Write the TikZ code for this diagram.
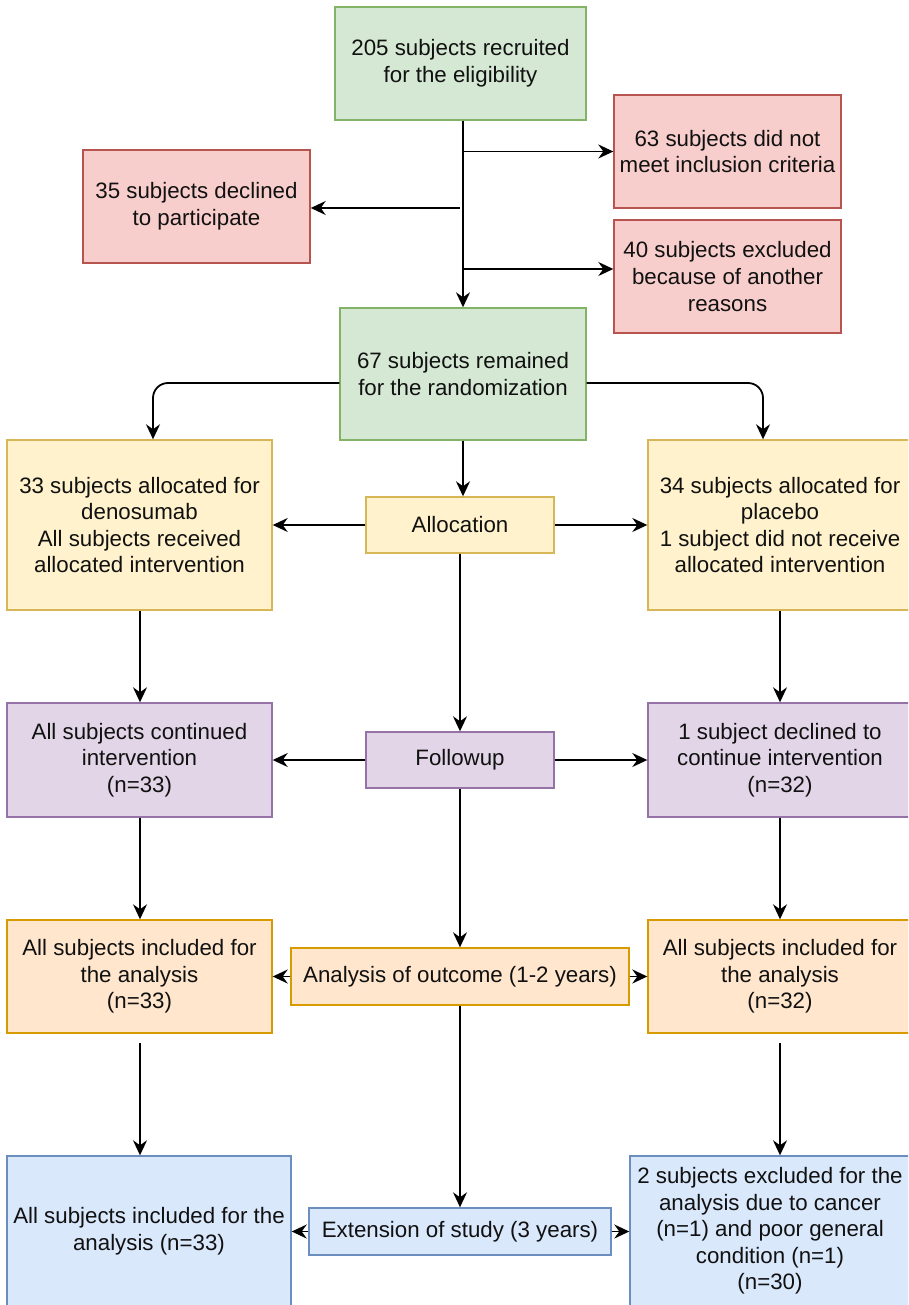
\documentclass[tikz,border=0pt]{standalone}
\usepackage{fontspec}
\setmainfont{Liberation Sans}
\usetikzlibrary{arrows.meta}
\definecolor{gfill}{HTML}{D5E8D4}\definecolor{gdraw}{HTML}{82B366}
\definecolor{rfill}{HTML}{F8CECC}\definecolor{rdraw}{HTML}{B85450}
\definecolor{yfill}{HTML}{FFF2CC}\definecolor{ydraw}{HTML}{D6B656}
\definecolor{pfill}{HTML}{E1D5E7}\definecolor{pdraw}{HTML}{9673A6}
\definecolor{ofill}{HTML}{FFE6CC}\definecolor{odraw}{HTML}{D79B00}
\definecolor{bfill}{HTML}{DAE8FC}\definecolor{bdraw}{HTML}{6C8EBF}
\definecolor{txt}{HTML}{111111}
\begin{document}
\begin{tikzpicture}[x=1pt,y=-1pt,
  box/.style={draw, line width=1.4pt, align=center, inner sep=0pt, text=txt,
    font=\fontsize{22.3}{26.6}\selectfont},
  gbox/.style={box, fill=gfill, draw=gdraw},
  rbox/.style={box, fill=rfill, draw=rdraw},
  ybox/.style={box, fill=yfill, draw=ydraw},
  pbox/.style={box, fill=pfill, draw=pdraw},
  obox/.style={box, fill=ofill, draw=odraw},
  bbox/.style={box, fill=bfill, draw=bdraw},
  arr/.style={line width=1.8pt, draw=black, -{Stealth[length=15pt,width=14pt,inset=5pt]}},
]
\clip (0,0) rectangle (908,1305);
\fill[white] (0,0) rectangle (908,1305);

% top section
\node[gbox, minimum width=251pt, minimum height=113pt] (top) at (460.5,63.5) {205 subjects recruited\\for the eligibility};
\node[rbox, minimum width=227pt, minimum height=113pt] (r63) at (727.5,151.5) {63 subjects did not\\meet inclusion criteria};
\node[rbox, minimum width=227pt, minimum height=113pt] (r40) at (727.5,276.5) {40 subjects excluded\\because of another\\reasons};
\node[rbox, minimum width=227pt, minimum height=113pt] (r35) at (196.5,206.5) {35 subjects declined\\to participate};
\node[gbox, minimum width=246pt, minimum height=132pt] (g67) at (463,374) {67 subjects remained\\for the randomization};

% allocation row
\node[ybox, minimum width=265pt, minimum height=170pt] (yL) at (139.5,525) {33 subjects allocated for\\denosumab\\All subjects received\\allocated intervention};
\node[ybox, minimum width=188pt, minimum height=56pt] (alloc) at (460,525) {Allocation};
\node[ybox, minimum width=264pt, minimum height=170pt] (yR) at (780,525) {34 subjects allocated for\\placebo\\1 subject did not receive\\allocated intervention};

% followup row
\node[pbox, minimum width=265pt, minimum height=114pt] (pL) at (139.5,760) {All subjects continued\\intervention\\(n=33)};
\node[pbox, minimum width=188pt, minimum height=56pt] (follow) at (460,760) {Followup};
\node[pbox, minimum width=264pt, minimum height=114pt] (pR) at (780,760) {1 subject declined to\\continue intervention\\(n=32)};

% analysis row
\node[obox, minimum width=265pt, minimum height=113pt] (oL) at (139.5,976.5) {All subjects included for\\the analysis\\(n=33)};
\node[obox, minimum width=338pt, minimum height=57pt] (oC) at (460,976.5) {Analysis of outcome (1-2 years)};
\node[obox, minimum width=264pt, minimum height=113pt] (oR) at (780,976.5) {All subjects included for\\the analysis\\(n=32)};

% extension row
\node[bbox, minimum width=284pt, minimum height=150pt] (bL) at (149,1231) {All subjects included for the\\analysis (n=33)};
\node[bbox, minimum width=302pt, minimum height=47pt] (ext) at (460,1231.5) {Extension of study (3 years)};
\node[bbox, minimum width=280pt, minimum height=150pt] (bR) at (770,1231) {2 subjects excluded for the\\analysis due to cancer\\(n=1) and poor general\\condition (n=1)\\(n=30)};

% coordinates
\coordinate (trunk) at (463,0);
\coordinate (b40) at (463,269);
\coordinate (b35) at (460,208);
\coordinate (cl) at (153,383);
\coordinate (cr) at (763,383);
\coordinate (lc) at (140,0);
\coordinate (rc) at (780,0);
\coordinate (cc) at (460,0);
\coordinate (lo) at (140,1043);
\coordinate (ro) at (780,1043);

% connectors top
\draw[arr] (top.south -| trunk) -- (g67.north -| trunk);
\draw[arr] (trunk |- r63.west) -- (r63.west);
\draw[arr] (b40) -- (b40 -| r40.west);
\draw[arr] (b35) -- (b35 -| r35.east);

% randomization branches
\draw[arr, rounded corners=15pt] (g67.west |- cl) -- (cl) -- (cl |- yL.north);
\draw[arr, rounded corners=15pt] (g67.east |- cr) -- (cr) -- (cr |- yR.north);
\draw[arr] (g67.south -| trunk) -- (alloc.north -| trunk);

% center column
\draw[arr] (alloc.south -| cc) -- (follow.north -| cc);
\draw[arr] (follow.south -| cc) -- (oC.north -| cc);
\draw[arr] (oC.south -| cc) -- (ext.north -| cc);

% left column
\draw[arr] (yL.south -| lc) -- (pL.north -| lc);
\draw[arr] (pL.south -| lc) -- (oL.north -| lc);
\draw[arr] (lo) -- (lo |- bL.north);

% right column
\draw[arr] (yR.south -| rc) -- (pR.north -| rc);
\draw[arr] (pR.south -| rc) -- (oR.north -| rc);
\draw[arr] (ro) -- (ro |- bR.north);

% horizontal arrows
\draw[arr] (alloc.west) -- (alloc.west -| yL.east);
\draw[arr] (alloc.east) -- (alloc.east -| yR.west);
\draw[arr] (follow.west) -- (follow.west -| pL.east);
\draw[arr] (follow.east) -- (follow.east -| pR.west);
\draw[arr] (oC.west) -- (oC.west -| oL.east);
\draw[arr] (oC.east) -- (oC.east -| oR.west);
\draw[arr] (ext.west) -- (ext.west -| bL.east);
\draw[arr] (ext.east) -- (ext.east -| bR.west);
\end{tikzpicture}
\end{document}
